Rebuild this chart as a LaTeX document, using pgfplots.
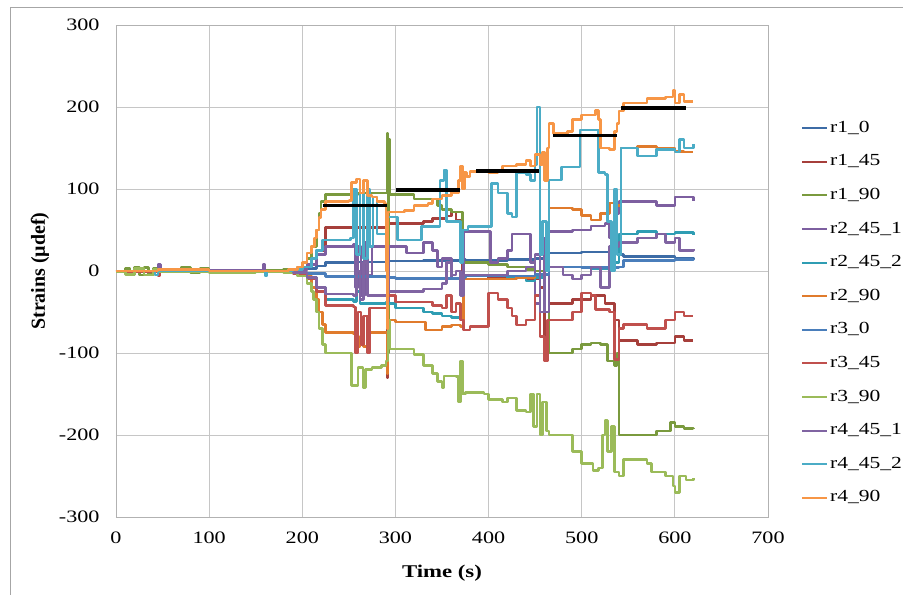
\documentclass[border=0pt]{standalone}
\usepackage{fontspec}
\setmainfont{Liberation Serif}
\newfontfamily\wf[FakeStretch=1.27]{Liberation Serif}
\usepackage{pgfplots}
\pgfplotsset{compat=1.18}
\definecolor{cA}{HTML}{3D6CA6}
\definecolor{cB}{HTML}{A63F3B}
\definecolor{cC}{HTML}{7A9A3E}
\definecolor{cD}{HTML}{7D5FA0}
\definecolor{cE}{HTML}{2F9DB3}
\definecolor{cF}{HTML}{E07B2C}
\definecolor{cG}{HTML}{4A7EBB}
\definecolor{cH}{HTML}{C0504D}
\definecolor{cI}{HTML}{9BBB59}
\definecolor{cJ}{HTML}{8064A2}
\definecolor{cK}{HTML}{4BACC6}
\definecolor{cL}{HTML}{F79646}
\begin{document}
\begin{tikzpicture}
\begin{axis}[
  at={(0,0)}, anchor=south west,
  scale only axis, width=652bp, height=492bp,
  xmin=0, xmax=700, ymin=-300, ymax=300,
  xtick distance=100, ytick distance=100,
  grid=major,
  major grid style={draw=gray!45, line width=0.8bp},
  axis line style={draw=gray!60, line width=0.8bp},
  major tick length=0pt,
  /pgf/number format/assume math mode=true,
  tick label style={font=\wf\fontsize{17.5}{17.5}\selectfont},
  yticklabel style={xshift=-13bp},
  xticklabel style={yshift=-11bp},
  xlabel={\textbf{Time (s)}},
  ylabel={\textbf{Strains (µdef)}},
  every axis x label/.style={at={(rel axis cs:0.5,0)}, yshift=-56bp, anchor=center, font=\wf\fontsize{18}{18}\selectfont},
  every axis y label/.style={at={(rel axis cs:0,0.5)}, xshift=-76bp, rotate=90, anchor=center, font=\fontsize{20}{20}\selectfont},
  legend style={at={(1.0506,0.4146)}, anchor=west, draw=none, fill=none, inner sep=0pt,
    font=\wf\fontsize{17}{17}\selectfont,
    nodes={inner sep=2bp, text height=11bp, text depth=3bp}, row sep=15.6bp},
  legend cell align=left,
  legend image code/.code={\draw[#1, line width=2bp] (0bp,0bp) -- (25bp,0bp);},
  every axis plot/.append style={line width=2.6bp, line join=round, const plot},
]
% r1_0
\addplot[cA] coordinates {(0,0)(40,1)(45,-1)(150,0)(190,1)(200,3)(215,6)(225,10)(260,11)(290,12)(291,0)(293,12)(330,13)(370,14)(375,13)(420,14)(450,15)(460,10)(465,22)(500,23)(535,24)(540,20)(545,18)(600,16)(620,15)};
\addlegendentry{r1\_0}
% r1_45
\addplot[cB] coordinates {(0,0)(150,0)(190,1)(205,8)(215,25)(225,53)(290,53)(291,-130)(292,58)(320,58)(330,60)(340,64)(355,67)(360,72)(365,62)(370,60)(372,-10)(400,-8)(440,-10)(455,-20)(460,-100)(465,-40)(490,-35)(510,-30)(525,-40)(535,-60)(540,-85)(560,-90)(580,-88)(600,-80)(610,-85)(620,-85)};
\addlegendentry{r1\_45}
% r1_90
\addplot[cC] coordinates {(0,0)(10,3)(15,-4)(20,4)(25,-5)(30,4)(35,-4)(40,3)(45,0)(60,1)(70,4)(80,-2)(90,3)(100,0)(150,1)(180,2)(195,5)(205,15)(210,30)(215,50)(218,70)(220,85)(225,93)(260,95)(290,95)(291,168)(292,-100)(293,160)(294,93)(315,93)(320,88)(340,88)(345,80)(350,75)(360,72)(370,72)(372,10)(380,10)(400,8)(420,5)(440,2)(450,0)(460,-5)(465,-100)(480,-100)(490,-95)(500,-90)(510,-88)(520,-90)(528,-110)(535,-115)(538,-100)(540,-200)(560,-200)(580,-195)(595,-185)(600,-190)(610,-192)(620,-193)};
\addlegendentry{r1\_90}
% r2_45_1
\addplot[cD] coordinates {(0,0)(40,1)(45,8)(48,1)(150,1)(158,8)(160,0)(190,2)(205,8)(215,20)(225,30)(255,32)(257,-20)(260,30)(263,-30)(267,35)(270,-5)(275,30)(290,30)(291,-40)(293,30)(310,30)(312,22)(325,22)(330,35)(340,25)(345,5)(350,15)(360,-10)(370,-15)(373,48)(400,48)(402,10)(410,15)(420,25)(425,45)(440,45)(445,10)(450,-40)(455,40)(460,-50)(465,48)(490,50)(510,55)(525,58)(530,40)(535,70)(540,85)(560,85)(580,80)(600,90)(620,85)};
\addlegendentry{r2\_45\_1}
% r2_45_2
\addplot[cE] coordinates {(0,0)(150,0)(190,-2)(205,-8)(215,-20)(225,-35)(255,-37)(258,-25)(262,-40)(290,-38)(291,-40)(300,-45)(330,-50)(340,-52)(350,-55)(360,-57)(370,-55)(373,-10)(400,-10)(420,-8)(440,-12)(450,-8)(460,0)(465,5)(490,5)(510,3)(530,10)(540,45)(560,48)(580,45)(600,47)(620,44)};
\addlegendentry{r2\_45\_2}
% r2_90
\addplot[cF] coordinates {(0,0)(150,0)(190,-2)(200,-6)(210,-20)(215,-35)(218,-50)(222,-65)(225,-75)(255,-77)(258,-92)(262,-80)(266,-92)(270,-75)(290,-75)(291,-125)(292,-60)(300,-62)(330,-62)(332,-72)(345,-72)(350,-68)(360,-66)(370,-68)(373,-10)(400,-10)(430,-8)(450,-5)(460,5)(465,77)(490,75)(500,68)(510,62)(520,70)(530,83)(538,80)(542,150)(560,152)(580,150)(600,146)(610,145)(620,145)};
\addlegendentry{r2\_90}
% r3_0
\addplot[cG] coordinates {(0,-1)(190,-1)(200,-3)(225,-7)(290,-8)(300,-9)(370,-8)(375,-6)(450,-4)(465,5)(480,5)(500,4)(540,5)(545,13)(600,14)(620,15)};
\addlegendentry{r3\_0}
% r3_45
\addplot[cH] coordinates {(0,-1)(40,-1)(45,-6)(47,-1)(150,-1)(190,-3)(205,-10)(215,-25)(225,-42)(255,-44)(257,-100)(260,-50)(263,-90)(266,-55)(270,-100)(272,-45)(290,-45)(292,-30)(300,-38)(330,-38)(340,-42)(350,-45)(355,-30)(360,-50)(365,-40)(370,-60)(373,-72)(380,-68)(395,-68)(400,-27)(410,-35)(420,-45)(425,-55)(430,-66)(440,-60)(450,-30)(455,-80)(460,-110)(463,-60)(470,-60)(490,-50)(500,-27)(510,-30)(515,-47)(530,-50)(535,-108)(540,-70)(545,-65)(570,-70)(590,-60)(600,-50)(610,-55)(620,-55)};
\addlegendentry{r3\_45}
% r3_90
\addplot[cI] coordinates {(0,-1)(10,-4)(20,3)(30,-5)(40,2)(45,-1)(100,-2)(150,-1)(180,-2)(195,-6)(205,-15)(210,-25)(212,-35)(215,-50)(218,-70)(222,-90)(225,-100)(250,-100)(253,-140)(258,-140)(260,-118)(265,-142)(268,-120)(275,-118)(285,-115)(290,-110)(292,-60)(294,-95)(315,-95)(320,-102)(330,-115)(340,-125)(345,-135)(350,-142)(352,-128)(365,-129)(368,-160)(370,-110)(372,-150)(375,-148)(395,-150)(400,-157)(415,-160)(420,-155)(430,-170)(440,-172)(445,-150)(448,-190)(452,-150)(455,-200)(458,-160)(462,-195)(465,-200)(488,-200)(490,-220)(500,-235)(512,-243)(518,-240)(522,-200)(525,-182)(528,-220)(532,-190)(535,-245)(540,-250)(545,-230)(570,-235)(575,-245)(590,-250)(598,-262)(600,-270)(605,-250)(612,-255)(620,-253)};
\addlegendentry{r3\_90}
% r4_45_1
\addplot[cJ] coordinates {(0,0)(150,0)(190,-2)(205,-8)(215,-20)(225,-28)(255,-30)(258,0)(262,-35)(266,10)(270,-30)(290,-30)(291,0)(293,-25)(330,-22)(350,-15)(355,10)(360,-5)(365,0)(370,-30)(373,-5)(400,-5)(420,0)(440,5)(450,20)(455,-50)(460,15)(465,5)(480,-5)(490,-10)(500,-5)(510,5)(520,-20)(530,30)(540,35)(560,40)(580,45)(590,35)(600,40)(605,25)(620,27)};
\addlegendentry{r4\_45\_1}
% r4_45_2
\addplot[cK] coordinates {(0,0)(40,0)(42,-5)(45,0)(150,0)(160,-6)(162,0)(190,2)(200,5)(210,15)(215,25)(222,38)(252,40)(255,100)(258,20)(262,95)(266,15)(270,100)(272,30)(276,90)(280,45)(290,42)(291,0)(292,66)(300,66)(302,38)(325,38)(328,54)(345,54)(348,110)(352,123)(355,60)(365,60)(370,10)(372,50)(378,54)(400,54)(403,107)(410,95)(420,70)(425,66)(430,120)(440,118)(445,110)(450,130)(452,200)(455,20)(458,60)(462,0)(465,111)(475,111)(478,127)(495,127)(498,172)(515,172)(518,120)(525,118)(528,60)(532,0)(535,100)(538,20)(542,150)(560,140)(580,148)(600,145)(605,160)(610,150)(620,155)};
\addlegendentry{r4\_45\_2}
% r4_90
\addplot[cL] coordinates {(0,0)(40,0)(45,2)(100,0)(160,0)(185,2)(195,5)(200,10)(205,22)(210,30)(213,40)(215,50)(218,65)(220,75)(225,85)(250,86)(253,108)(258,112)(262,95)(266,110)(270,92)(275,90)(280,85)(288,82)(290,0)(291,-70)(292,72)(310,74)(318,74)(320,80)(335,82)(340,88)(350,92)(360,96)(365,95)(368,110)(370,128)(372,100)(374,120)(376,115)(380,121)(400,120)(410,122)(415,128)(430,130)(440,135)(445,128)(450,142)(455,130)(458,145)(460,110)(463,150)(465,180)(470,168)(485,170)(490,185)(500,190)(515,196)(518,185)(520,150)(530,148)(535,170)(538,180)(540,195)(545,205)(560,205)(570,210)(590,212)(598,220)(600,205)(605,215)(610,207)(620,207)};
\addlegendentry{r4\_90}
% load levels
\addplot[black, line width=3.5bp, forget plot] coordinates {(222,80)(291,80)};
\addplot[black, line width=3.5bp, forget plot] coordinates {(301,99)(369,99)};
\addplot[black, line width=3.5bp, forget plot] coordinates {(387,122)(454,122)};
\addplot[black, line width=3.5bp, forget plot] coordinates {(469,165)(538,165)};
\addplot[black, line width=3.5bp, forget plot] coordinates {(542,199)(612,199)};
\end{axis}
\draw[gray!70, line width=0.8bp] (-106bp,-80bp) -- (-106bp,510bp) -- (790bp,510bp);
\pgfresetboundingbox
\path[use as bounding box] (-116bp,-78bp) rectangle (787bp,517bp);
\end{tikzpicture}
\end{document}
